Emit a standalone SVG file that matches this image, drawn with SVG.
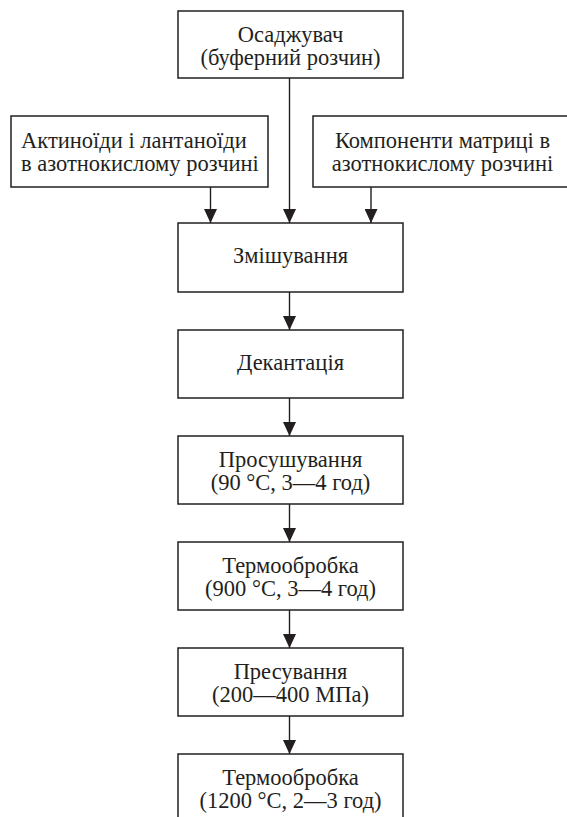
<svg xmlns="http://www.w3.org/2000/svg" width="567" height="817" viewBox="0 0 567 817">
<defs>
<style>
.box{fill:#fff;stroke:#231f20;stroke-width:1.5}
.t{font-family:"Liberation Serif","Times New Roman",serif;font-size:22.5px;fill:#231f20;text-anchor:middle}
.l{text-anchor:start}
.c{stroke:#231f20;stroke-width:1.4;fill:none}
</style>
<marker id="ah" markerWidth="14" markerHeight="13" refX="14" refY="6.5" orient="auto" markerUnits="userSpaceOnUse">
<path d="M0,0 L14,6.5 L0,13 Z" fill="#231f20"/>
</marker>
</defs>
<rect width="567" height="817" fill="#fff"/>
<g id="osadzhuvach">
<rect class="box" x="178" y="11" width="225" height="67"/>
<text class="t" x="290.5" y="41.5">Осаджувач</text>
<text class="t" x="290.5" y="64.5">(буферний розчин)</text>
</g>
<g id="aktynoidy">
<rect class="box" x="11" y="116" width="257" height="71"/>
<text class="t l" x="21" y="147.5">Актиноїди і лантаноїди</text>
<text class="t l" x="21" y="170.5">в азотнокислому розчині</text>
</g>
<g id="komponenty">
<rect class="box" x="313" y="116" width="262" height="71"/>
<text class="t" x="442.5" y="147.5">Компоненти матриці в</text>
<text class="t" x="442.5" y="170.5">азотнокислому розчині</text>
</g>
<g id="zmishuvannia">
<rect class="box" x="178" y="223" width="225" height="69"/>
<text class="t" x="290.5" y="263">Змішування</text>
</g>
<g id="dekantatsiia">
<rect class="box" x="178" y="330" width="225" height="68"/>
<text class="t" x="290.5" y="369.5">Декантація</text>
</g>
<g id="prosushuvannia">
<rect class="box" x="178" y="436" width="225" height="68"/>
<text class="t" x="290.5" y="466.5">Просушування</text>
<text class="t" x="290.5" y="489.5">(90 °C, 3—4 год)</text>
</g>
<g id="termoobrobka1">
<rect class="box" x="178" y="542" width="225" height="68"/>
<text class="t" x="290.5" y="572.5">Термообробка</text>
<text class="t" x="290.5" y="595.5">(900 °C, 3—4 год)</text>
</g>
<g id="presuvannia">
<rect class="box" x="178" y="648" width="225" height="68"/>
<text class="t" x="290.5" y="678.5">Пресування</text>
<text class="t" x="290.5" y="701.5">(200—400 МПа)</text>
</g>
<g id="termoobrobka2">
<rect class="box" x="178" y="754" width="225" height="80"/>
<text class="t" x="290.5" y="784.5">Термообробка</text>
<text class="t" x="290.5" y="807.5">(1200 °C, 2—3 год)</text>
</g>
<g id="connectors">
<line class="c" x1="289.5" y1="78" x2="289.5" y2="223" marker-end="url(#ah)"/>
<line class="c" x1="210.5" y1="187" x2="210.5" y2="223" marker-end="url(#ah)"/>
<line class="c" x1="371" y1="187" x2="371" y2="223" marker-end="url(#ah)"/>
<line class="c" x1="289.5" y1="292" x2="289.5" y2="330" marker-end="url(#ah)"/>
<line class="c" x1="289.5" y1="398" x2="289.5" y2="436" marker-end="url(#ah)"/>
<line class="c" x1="289.5" y1="504" x2="289.5" y2="542" marker-end="url(#ah)"/>
<line class="c" x1="289.5" y1="610" x2="289.5" y2="648" marker-end="url(#ah)"/>
<line class="c" x1="289.5" y1="716" x2="289.5" y2="754" marker-end="url(#ah)"/>
</g>
</svg>
